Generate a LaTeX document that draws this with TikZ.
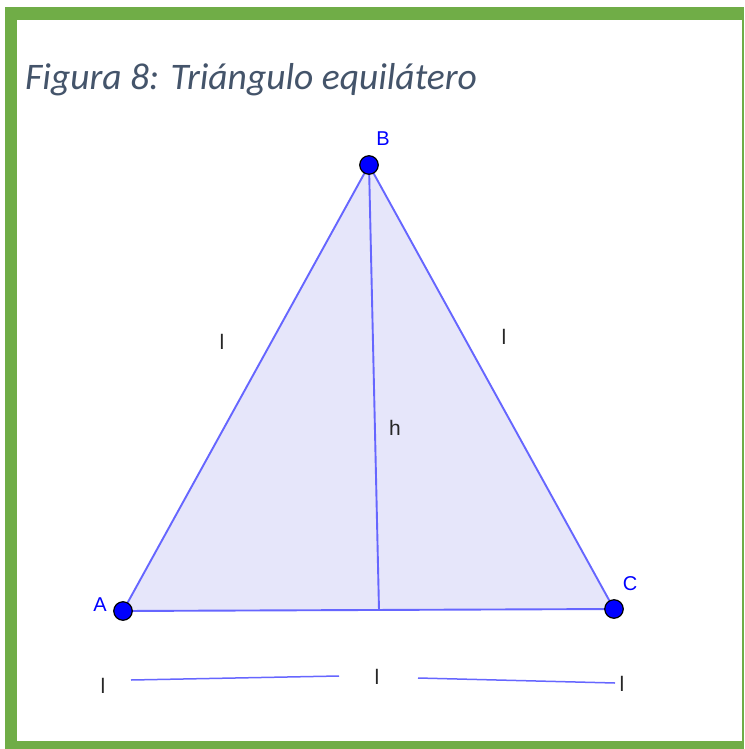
\documentclass[tikz,border=0pt]{standalone}
\usepackage{fontspec}
\setmainfont{Liberation Sans}
\newfontfamily\capfont{Carlito}
\usetikzlibrary{positioning,calc}
\definecolor{framegreen}{HTML}{70AD47}
\definecolor{capgray}{HTML}{44546A}
\definecolor{ggline}{HTML}{6666FF}
\definecolor{ggfill}{HTML}{E6E6FA}
\definecolor{ggdot}{HTML}{0000FF}
\tikzset{
  ggpt/.style={circle, draw=black, fill=ggdot, line width=1.2pt, inner sep=0pt,
    minimum size=18.5pt},
  gglab/.style={text=ggdot, font=\fontsize{20}{20}\selectfont, inner sep=0pt},
  seglab/.style={text=black!85, font=\fontsize{21}{21}\selectfont, inner sep=0pt},
  seg/.style={draw=ggline, line width=1.9pt},
}

\begin{document}
\begin{tikzpicture}[x=1pt, y=-1pt]
    \useasboundingbox (0,0) rectangle (744,749);
    % frame
    \fill[framegreen] (5,7) rectangle (744,749);
    \fill[white] (17,20) rectangle (742,741);
    \node[anchor=base west, text=capgray, inner sep=0pt,
      font=\capfont\itshape\fontsize{37.5}{37.5}\selectfont] (cap) at (25,90)
      {Figura 8: Triángulo equilátero};
    % triangle
    \coordinate (A) at (123,611);
    \coordinate (B) at (369,165);
    \coordinate (C) at (614,609);
    \coordinate (H) at (379,610);
    \fill[ggfill] (A) -- (B) -- (C) -- cycle;
    \draw[seg] (A) -- (B) -- (C) -- cycle;
    \draw[seg] (B) -- (H);
    \node[ggpt] (pA) at (A) {};
    \node[ggpt] (pB) at (B) {};
    \node[ggpt] (pC) at (C) {};
    \node[gglab] (lA) at (100,605) {A};
    \node[gglab] (lB) at (383,139) {B};
    \node[gglab] (lC) at (630,584) {C};
    \node[seglab] (lAB) at (222,342) {l};
    \node[seglab] (lBC) at (504,337) {l};
    \node[seglab] (lh) at (395,428) {h};
    % side length below
    \node[seglab] (b1) at (103,686) {l};
    \node[seglab] (b2) at (377,677) {l};
    \node[seglab] (b3) at (622,684) {l};
    \coordinate (s1) at (131,680);
    \coordinate (s2) at (339,676);
    \coordinate (s3) at (418,678);
    \coordinate (s4) at (615,683);
    \draw[seg, line width=1.5pt] (s1) -- (s2);
    \draw[seg, line width=1.5pt] (s3) -- (s4);
  \end{tikzpicture}
\end{document}
